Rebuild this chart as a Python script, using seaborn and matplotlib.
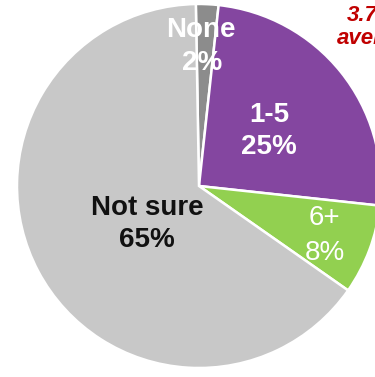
import matplotlib
matplotlib.use("Agg")
import matplotlib.pyplot as plt
import seaborn as sns

# Number of planned purchases
categories = ["None", "1-5", "6+", "Not sure"]
values = [2, 25, 8, 65]
pct_labels = ["2%", "25%", "8%", "65%"]
colors = ["#8c8c8c", "#8446a0", "#92d050", "#c8c8c8"]
average_lines = ["3.7", "average"]

sns.set_theme(style="white")
plt.rcParams["font.family"] = ["Liberation Sans", "DejaVu Sans"]

W, H = 375, 377
fig = plt.figure(figsize=(W / 100, H / 100), dpi=100)
fig.patch.set_facecolor("white")
ax = fig.add_axes([0, 0, 1, 1])

def top(y):
    # convert a top-down pixel row into the axes' bottom-up coordinates
    return H - y

ax.pie(values, colors=colors, startangle=91, counterclock=False,
       center=(199, top(186)), radius=182,
       wedgeprops=dict(edgecolor="white", linewidth=1.8))
ax.set_xlim(0, W)
ax.set_ylim(0, H)
ax.set_aspect("equal")
ax.axis("off")

fs = 20
# None
ax.text(201, top(37), categories[0], ha="center", va="baseline", fontsize=fs,
        fontweight="bold", color="white")
ax.text(202, top(70), pct_labels[0], ha="center", va="baseline", fontsize=fs,
        fontweight="bold", color="white")
# 1-5
ax.text(269, top(122), categories[1], ha="center", va="baseline", fontsize=fs,
        fontweight="bold", color="white")
ax.text(269, top(154), pct_labels[1], ha="center", va="baseline", fontsize=fs,
        fontweight="bold", color="white")
# 6+
ax.text(324, top(225), categories[2], ha="center", va="baseline", fontsize=fs,
        color="white")
ax.text(325, top(260), pct_labels[2], ha="center", va="baseline", fontsize=fs,
        color="white")
# Not sure
ax.text(147, top(215), categories[3], ha="center", va="baseline", fontsize=fs,
        fontweight="bold", color="#111111")
ax.text(147, top(247), pct_labels[3], ha="center", va="baseline", fontsize=fs,
        fontweight="bold", color="#111111")

# Average note running off the right edge
ax.text(347, top(21), average_lines[0], ha="left", va="baseline", fontsize=16,
        fontweight="bold", fontstyle="italic", color="#c00000")
ax.text(337, top(44), average_lines[1], ha="left", va="baseline", fontsize=16,
        fontweight="bold", fontstyle="italic", color="#c00000")

fig.savefig("out.png", dpi=100)
